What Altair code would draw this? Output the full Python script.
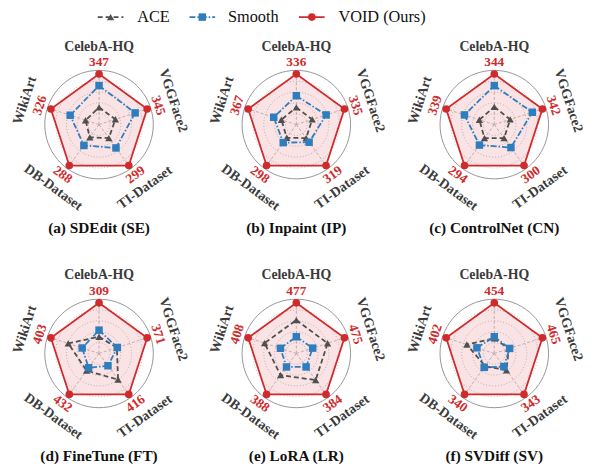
import math
import altair as alt
import pandas as pd

# ---------------- data ----------------
axis_names = ["CelebA-HQ", "VGGFace2", "TI-Dataset", "DB-Dataset", "WikiArt"]
panel_titles = ["(a) SDEdit (SE)", "(b) Inpaint (IP)", "(c) ControlNet (CN)",
                "(d) FineTune (FT)", "(e) LoRA (LR)", "(f) SVDiff (SV)"]
series_names = ["ACE", "Smooth", "VOID (Ours)"]

void_values = [
    [347, 345, 299, 288, 326],
    [336, 335, 319, 298, 367],
    [344, 342, 300, 294, 339],
    [309, 371, 416, 432, 403],
    [477, 475, 384, 388, 408],
    [454, 465, 343, 340, 402],
]
ace_rel = [
    [0.34, 0.34, 0.33, 0.31, 0.28],
    [0.34, 0.33, 0.33, 0.32, 0.31],
    [0.35, 0.33, 0.33, 0.33, 0.31],
    [0.33, 0.37, 0.64, 0.42, 0.64],
    [0.66, 0.65, 0.65, 0.53, 0.66],
    [0.30, 0.30, 0.41, 0.31, 0.57],
]
smooth_rel = [
    [0.77, 0.75, 0.57, 0.51, 0.60],
    [0.57, 0.62, 0.43, 0.44, 0.47],
    [0.77, 0.79, 0.56, 0.50, 0.62],
    [0.46, 0.38, 0.30, 0.35, 0.35],
    [0.33, 0.34, 0.33, 0.33, 0.33],
    [0.33, 0.32, 0.32, 0.34, 0.36],
]

# ---------------- layout / style ----------------
W, H = 587, 466
col_cx = [92.3, 292.3, 493.0]
row_cy = [115.0, 347.0]
UNIT = 51.3          # px for VOID (=1.0)
R_OUT = 55.0         # outer circle px
GRID_FR = [0.2, 0.4, 0.6, 0.8, 1.0]
R_VAL = 63.0
R_LAB = 79.0
TITLE_DY = 104.5
LABEL_ROT = [0, 72, 324, 36, 288]
FONT = "Liberation Serif"
RED = "#cf2a2c"
BLUE = "#2e7ebf"
GRAY = "#4f4f4f"

legend_sym_x = [104, 197, 308]
legend_txt_x = [131, 223, 335]
LEGEND_Y = 6


def center(p):
    return col_cx[p % 3], row_cy[p // 3]


def polar(p, k, r):
    cx, cy = center(p)
    a = math.radians(72 * k)
    return cx + r * math.sin(a), cy - r * math.cos(a)


rows_grid, rows_spoke, rows_ser, rows_lab, rows_val, rows_tit = [], [], [], [], [], []
for p in range(6):
    cx, cy = center(p)
    for gi, fr in enumerate(GRID_FR):
        for j in range(73):
            a = math.radians(j * 5)
            rows_grid.append(dict(g=f"{p}-{gi}", kind="outer" if fr == 1.0 else "inner", o=j,
                                  x=cx + fr * R_OUT * math.sin(a), y=cy - fr * R_OUT * math.cos(a)))
    for k in range(5):
        x2, y2 = polar(p, k, R_OUT)
        rows_spoke.append(dict(x=cx, y=cy, x2=x2, y2=y2))
        for s, rel in zip(series_names, [ace_rel[p][k], smooth_rel[p][k], 1.0]):
            x, y = polar(p, k, rel * UNIT)
            rows_ser.append(dict(panel=p, series=s, k=k, x=x, y=y))
        x, y = polar(p, k, R_LAB)
        rows_lab.append(dict(x=x, y=y, rot=LABEL_ROT[k], text=axis_names[k]))
        x, y = polar(p, k, R_VAL)
        rows_val.append(dict(x=x, y=y, rot=LABEL_ROT[k], text=str(void_values[p][k])))
    rows_tit.append(dict(x=cx, y=cy + TITLE_DY, text=panel_titles[p]))

df_grid = pd.DataFrame(rows_grid)
df_spoke = pd.DataFrame(rows_spoke)
df_ser = pd.DataFrame(rows_ser)
df_lab = pd.DataFrame(rows_lab)
df_val = pd.DataFrame(rows_val)
df_tit = pd.DataFrame(rows_tit)
df_leg = pd.DataFrame(dict(series=series_names, sx=legend_sym_x,
                           sx1=[v - 13 for v in legend_sym_x], sx2=[v + 13 for v in legend_sym_x],
                           tx=legend_txt_x, y=[LEGEND_Y] * 3))

xs = alt.Scale(domain=[0, W], range=[0, W], nice=False, zero=False)
ys = alt.Scale(domain=[0, H], range=[0, H], nice=False, zero=False)


def X(f="x"):
    return alt.X(f"{f}:Q", scale=xs, axis=None)


def Y(f="y"):
    return alt.Y(f"{f}:Q", scale=ys, axis=None)


col_s = alt.Scale(domain=series_names, range=[GRAY, BLUE, RED])
dash_s = alt.Scale(domain=series_names, range=[[5, 3], [6, 2, 1.5, 2], [1, 0]])
sw_s = alt.Scale(domain=series_names, range=[1.8, 1.8, 2.8])
shape_s = alt.Scale(domain=series_names, range=["triangle-up", "square", "circle"])
size_s = alt.Scale(domain=series_names, range=[55, 60, 85])

grid_inner = alt.Chart(df_grid[df_grid.kind == "inner"]).mark_line(
    color="#b0b0b0", strokeWidth=0.8, strokeDash=[1, 2]).encode(
    x=X(), y=Y(), detail="g:N", order="o:Q")
grid_outer = alt.Chart(df_grid[df_grid.kind == "outer"]).mark_line(
    color="#8a8a8a", strokeWidth=0.9).encode(x=X(), y=Y(), detail="g:N", order="o:Q")
spokes = alt.Chart(df_spoke).mark_rule(color="#b0b0b0", strokeWidth=0.8, strokeDash=[3, 2]).encode(
    x=X(), y=Y(), x2="x2:Q", y2="y2:Q")

void_fill = alt.Chart(df_ser[df_ser.series == "VOID (Ours)"]).mark_line(
    interpolate="linear-closed", fill=RED, fillOpacity=0.13, strokeOpacity=0).encode(
    x=X(), y=Y(), detail="panel:N", order="k:Q")

lines = alt.Chart(df_ser).mark_line(interpolate="linear-closed").encode(
    x=X(), y=Y(),
    color=alt.Color("series:N", scale=col_s, legend=None),
    strokeDash=alt.StrokeDash("series:N", scale=dash_s, legend=None),
    strokeWidth=alt.StrokeWidth("series:N", scale=sw_s, legend=None),
    detail="panel:N", order="k:Q")

points = alt.Chart(df_ser).mark_point(filled=True, opacity=1).encode(
    x=X(), y=Y(),
    color=alt.Color("series:N", scale=col_s, legend=None),
    shape=alt.Shape("series:N", scale=shape_s, legend=None),
    size=alt.Size("series:N", scale=size_s, legend=None))

labels = alt.Chart(df_lab).mark_text(font=FONT, fontSize=14, fontWeight="bold", color="#3a3a3a",
                                     baseline="middle", align="center").encode(
    x=X(), y=Y(), text="text:N", angle=alt.Angle("rot:Q", scale=None))
values = alt.Chart(df_val).mark_text(font=FONT, fontSize=13.5, fontWeight="bold", color=RED,
                                     baseline="middle", align="center").encode(
    x=X(), y=Y(), text="text:N", angle=alt.Angle("rot:Q", scale=None))
titles = alt.Chart(df_tit).mark_text(font=FONT, fontSize=15.5, fontWeight="bold", color="#111111",
                                     baseline="middle", align="center").encode(
    x=X(), y=Y(), text="text:N")

leg_lines = alt.Chart(df_leg).mark_rule().encode(
    x=X("sx1"), x2="sx2:Q", y=Y(),
    color=alt.Color("series:N", scale=col_s, legend=None),
    strokeDash=alt.StrokeDash("series:N", scale=dash_s, legend=None),
    strokeWidth=alt.StrokeWidth("series:N", scale=sw_s, legend=None))
leg_pts = alt.Chart(df_leg).mark_point(filled=True, opacity=1).encode(
    x=X("sx"), y=Y(),
    color=alt.Color("series:N", scale=col_s, legend=None),
    shape=alt.Shape("series:N", scale=shape_s, legend=None),
    size=alt.Size("series:N", scale=size_s, legend=None))
leg_txt = alt.Chart(df_leg).mark_text(font=FONT, fontSize=16.5, color="#111111",
                                      baseline="middle", align="left").encode(
    x=X("tx"), y=Y(), text="series:N")

chart = alt.layer(grid_inner, grid_outer, spokes, void_fill, lines, points,
                  labels, values, titles, leg_lines, leg_pts, leg_txt).properties(
    width=W, height=H, padding=0, autosize="none").configure_view(stroke=None)

chart.save("out.html", embed_options={"renderer": "svg", "actions": False})
